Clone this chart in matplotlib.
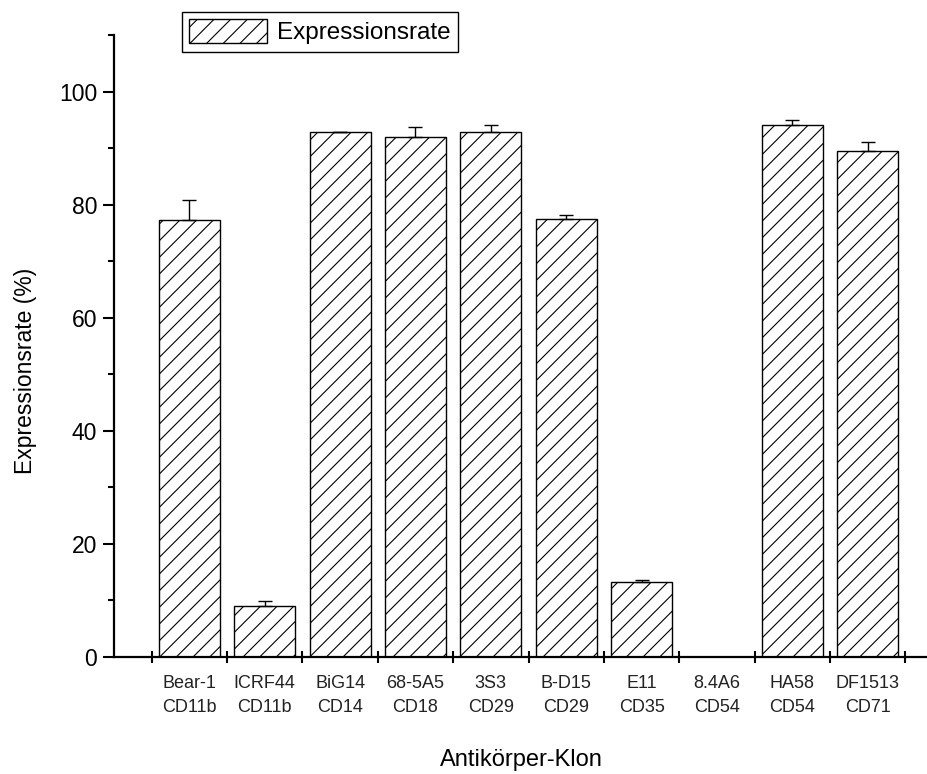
import numpy as np
import matplotlib
matplotlib.use("Agg")
import matplotlib.pyplot as plt
from matplotlib.ticker import FixedLocator, NullFormatter

# data
clones = ["Bear-1", "ICRF44", "BiG14", "68-5A5", "3S3", "B-D15", "E11", "8.4A6", "HA58", "DF1513"]
markers = ["CD11b", "CD11b", "CD14", "CD18", "CD29", "CD29", "CD35", "CD54", "CD54", "CD71"]
rates = [77.3, 9.0, 92.9, 92.0, 92.9, 77.4, 13.3, 0.0, 94.0, 89.5]
errs = [3.6, 0.9, 0.0, 1.8, 1.1, 0.7, 0.3, 0.0, 1.0, 1.5]

plt.rcParams["font.family"] = ["Liberation Sans", "DejaVu Sans"]
plt.rcParams["hatch.linewidth"] = 0.8

fig = plt.figure(figsize=(9.28, 7.74), dpi=100)
ax = fig.add_axes([0.1228, 0.1512, 0.8772, 0.8036])

x = np.arange(len(clones))
ax.bar(x, rates, width=0.81, color="white", edgecolor="black", linewidth=1.0,
       hatch="//", label="Expressionsrate", zorder=2)
ax.errorbar(x, rates, yerr=[np.zeros(len(errs)), errs], fmt="none", ecolor="black",
            elinewidth=1.0, capsize=5, capthick=1.0, zorder=3)

ax.set_xlim(-1.0, 9.8)
ax.set_ylim(0, 110)
for side in ("top", "right"):
    ax.spines[side].set_visible(False)
for side in ("left", "bottom"):
    ax.spines[side].set_linewidth(1.6)

ax.set_yticks([0, 20, 40, 60, 80, 100])
ax.yaxis.set_minor_locator(FixedLocator([10, 30, 50, 70, 90, 110]))
ax.tick_params(axis="y", which="major", direction="out", length=8, width=1.5, labelsize=16.5, pad=4)
ax.tick_params(axis="y", which="minor", direction="out", length=4.5, width=1.5)

# x: boundary ticks crossing the axis, labels at bar centres
ax.xaxis.set_major_locator(FixedLocator(list(np.append(x - 0.5, x[-1] + 0.5))))
ax.xaxis.set_major_formatter(NullFormatter())
ax.xaxis.set_minor_locator(FixedLocator(x))
ax.set_xticklabels([f"{c}\n{m}" for c, m in zip(clones, markers)], minor=True)
ax.tick_params(axis="x", which="major", direction="inout", length=9, width=1.5)
ax.tick_params(axis="x", which="minor", length=0, labelsize=13, pad=13, labelcolor="#222222")
for t in ax.get_xticklabels(minor=True):
    t.set_linespacing(1.5)

ax.set_ylabel("Expressionsrate (%)", fontsize=16.5)
ax.yaxis.set_label_coords(-0.094, 0.460)
ax.set_xlabel("Antikörper-Klon", fontsize=17, labelpad=24)

leg = ax.legend(loc="upper left", bbox_to_anchor=(182 / 928, 1 - 12 / 774),
                bbox_transform=fig.transFigure, fontsize=17.5, frameon=True, fancybox=False,
                edgecolor="black", framealpha=1, handlelength=3.2, handleheight=1.1,
                borderpad=0.3, handletextpad=0.4, borderaxespad=0)
leg.get_frame().set_linewidth(1.0)

fig.savefig("out.png", dpi=100)
